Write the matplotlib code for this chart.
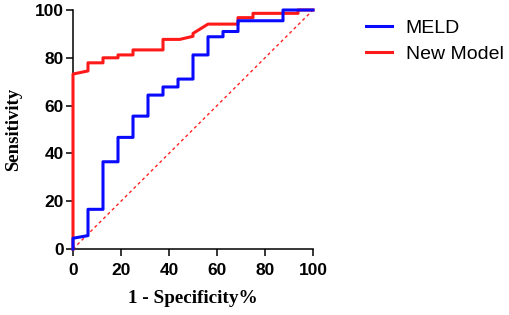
import matplotlib
matplotlib.use("Agg")
import matplotlib.pyplot as plt

# MELD ROC curve (1 - specificity %, sensitivity %)
meld_x = [0, 0, 6.25, 6.25, 12.5, 12.5, 18.75, 18.75, 25, 25, 31.25, 31.25, 37.5, 37.5,
          43.75, 43.75, 50, 50, 56.25, 56.25, 62.5, 62.5, 68.75, 68.75, 87.5, 87.5, 100]
meld_y = [0, 4.5, 5.6, 16.6, 16.6, 36.5, 36.5, 46.7, 46.7, 55.6, 55.6, 64.4, 64.4, 67.8,
          67.8, 71.1, 71.1, 81.2, 81.2, 88.8, 88.8, 91.0, 91.0, 95.5, 95.5, 100, 100]

# New Model ROC curve
new_x = [0, 0, 6.25, 6.25, 12.5, 12.5, 18.75, 18.75, 25, 25, 37.5, 37.5, 44.5, 50, 50,
         56.25, 68.75, 68.75, 75, 75, 93.75, 93.75, 100]
new_y = [0, 73.2, 74.5, 77.9, 77.9, 80.0, 80.0, 81.2, 81.2, 83.3, 83.3, 87.7, 87.7, 89.0, 90.2,
         94.1, 94.1, 96.8, 96.8, 98.6, 98.6, 100, 100]

ref_x = [0, 100]
ref_y = [0, 100]

xticks = [0, 20, 40, 60, 80, 100]
yticks = [0, 20, 40, 60, 80, 100]

W, H = 510, 315
fig = plt.figure(figsize=(W / 100, H / 100), dpi=100)
ax = fig.add_axes([73 / W, (H - 249) / H, (313 - 73) / W, (249 - 10) / H])

ax.plot(ref_x, ref_y, color="#ff2020", lw=1.0, linestyle=(0, (2.2, 2.2)), clip_on=False, zorder=2)
l_new, = ax.plot(new_x, new_y, color="#ff1a1a", lw=2.2, clip_on=False, zorder=3, label="New Model")
l_meld, = ax.plot(meld_x, meld_y, color="#0a0aff", lw=2.2, clip_on=False, zorder=4, label="MELD")

ax.set_xlim(0, 100)
ax.set_ylim(0, 100)
ax.set_xticks(xticks)
ax.set_yticks(yticks)
for s in ["top", "right"]:
    ax.spines[s].set_visible(False)
for s in ["left", "bottom"]:
    ax.spines[s].set_linewidth(1.1)
ax.tick_params(direction="out", length=5, width=1.1)
ax.tick_params(axis="x", pad=5)
ax.tick_params(axis="y", pad=1.5)
for lab in ax.get_xticklabels() + ax.get_yticklabels():
    lab.set_fontfamily("Liberation Sans")
    lab.set_fontweight("bold")
    lab.set_fontsize(12.5)

ax.set_xlabel("1 - Specificity%", fontfamily="Liberation Serif", fontweight="bold", fontsize=13.8, labelpad=8.5)
ax.set_ylabel("Sensitivity", fontfamily="Liberation Serif", fontweight="bold", fontsize=13.5, labelpad=9)

fig.legend([l_meld, l_new], ["MELD", "New Model"], loc="upper left",
           bbox_to_anchor=(366 / W, 1 - 19 / H), frameon=False,
           prop={"family": "Liberation Sans", "size": 14},
           handlelength=1.35, handletextpad=0.7, labelspacing=0.45, borderpad=0, borderaxespad=0)

fig.savefig("out.png", dpi=100)
